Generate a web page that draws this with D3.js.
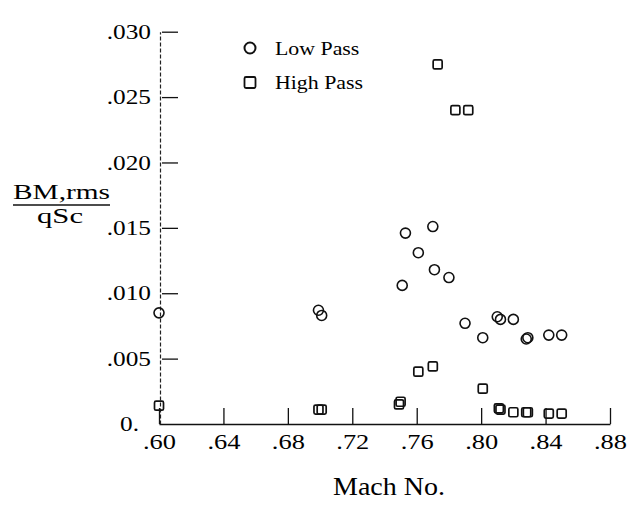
<!DOCTYPE html>
<html><head><meta charset="utf-8">
<script src="https://cdn.jsdelivr.net/npm/d3@7"></script>
<style>
body{margin:0;background:#fff;}
svg text{font-family:"Liberation Serif","Times New Roman",serif;fill:#000;}
</style></head>
<body>
<svg id="c" width="635" height="508"></svg>
<script>
// ---- data ----
const lowPassMach  = [0.600,0.699,0.701,0.751,0.753,0.761,0.770,0.771,0.780,0.790,0.801,0.810,0.812,0.820,0.828,0.829,0.842,0.850];
const lowPassValue = [0.0085,0.0087,0.0083,0.0106,0.0146,0.0131,0.0151,0.0118,0.0112,0.0077,0.0066,0.0082,0.0080,0.0080,0.0065,0.0066,0.0068,0.0068];
const highPassMach  = [0.600,0.699,0.701,0.749,0.750,0.761,0.770,0.773,0.784,0.792,0.801,0.811,0.812,0.820,0.828,0.829,0.842,0.850];
const highPassValue = [0.0014,0.0011,0.0011,0.0015,0.0017,0.0040,0.0044,0.0275,0.0240,0.0240,0.0027,0.0012,0.0011,0.0009,0.0009,0.0009,0.0008,0.0008];
const xTicks = [0.60,0.64,0.68,0.72,0.76,0.80,0.84,0.88];
const xTickLabels = [".60",".64",".68",".72",".76",".80",".84",".88"];
const yTicks = [0,0.005,0.010,0.015,0.020,0.025,0.030];
const yTickLabels = ["0.",".005",".010",".015",".020",".025",".030"];
const legendLabels = ["Low Pass","High Pass"];

const svg = d3.select("#c");
const x = d3.scaleLinear().domain([0.60,0.88]).range([159,610]);
const y = d3.scaleLinear().domain([0,0.030]).range([424,31.7]);

function stretch(sel, f){
  sel.each(function(){ const L=this.getComputedTextLength(); d3.select(this).attr("textLength",L*f).attr("lengthAdjust","spacingAndGlyphs"); });
}

// x axis
const gx = svg.append("g").attr("transform",`translate(0,${y(0)})`)
  .call(d3.axisBottom(x).tickValues(xTicks).tickSizeInner(-16).tickSizeOuter(0)
        .tickFormat((d,i)=>xTickLabels[i]));
gx.select(".domain").attr("stroke","#111").attr("stroke-width",1.6);
gx.selectAll(".tick line").attr("stroke","#111").attr("stroke-width",1.3);
gx.selectAll(".tick text").attr("y",25).attr("dy",0).attr("font-size",22).attr("fill","#000");
stretch(gx.selectAll(".tick text"),1.2);

// y axis
const gy = svg.append("g").attr("transform",`translate(160,0)`)
  .call(d3.axisLeft(y).tickValues(yTicks).tickSizeInner(-18).tickSizeOuter(0)
        .tickFormat((d,i)=>yTickLabels[i]));
gy.select(".domain").attr("stroke","#222").attr("stroke-width",1.2).attr("stroke-dasharray","4,2");
gy.selectAll(".tick line").attr("stroke","#111").attr("stroke-width",1.3).attr("x1",2);
gy.selectAll(".tick").filter(d=>d===0).select("line").remove();
gy.selectAll(".tick text").attr("x",-9).attr("dy","0.3em").attr("font-size",22).attr("fill","#000");
gy.selectAll(".tick").filter(d=>d===0).select("text").attr("x",-21);
stretch(gy.selectAll(".tick text"),1.15);

// y title (fraction)
svg.append("text").attr("x",13).attr("y",199).attr("font-size",21).text("BM,rms")
  .call(s=>s.attr("textLength",97).attr("lengthAdjust","spacingAndGlyphs"));
svg.append("line").attr("x1",13).attr("x2",110).attr("y1",205).attr("y2",205).attr("stroke","#111").attr("stroke-width",1.5);
svg.append("text").attr("x",37).attr("y",223).attr("font-size",21).text("qSc")
  .call(s=>s.attr("textLength",46).attr("lengthAdjust","spacingAndGlyphs"));

// x title
svg.append("text").attr("x",389).attr("y",495).attr("text-anchor","middle").attr("font-size",25).text("Mach No.")
  .call(s=>stretch(s,1.12));

// data
const low = lowPassMach.map((m,i)=>({m,v:lowPassValue[i]}));
const high = highPassMach.map((m,i)=>({m,v:highPassValue[i]}));
svg.append("g").selectAll("circle").data(low).join("circle")
  .attr("cx",d=>x(d.m)).attr("cy",d=>y(d.v)).attr("r",5)
  .attr("fill","none").attr("stroke","#111").attr("stroke-width",1.6);
svg.append("g").selectAll("rect").data(high).join("rect")
  .attr("x",d=>x(d.m)-4.5).attr("y",d=>y(d.v)-4.5).attr("width",9).attr("height",9).attr("rx",1.5)
  .attr("fill","none").attr("stroke","#111").attr("stroke-width",1.7);

// legend
const lg = svg.append("g");
lg.append("circle").attr("cx",250).attr("cy",48).attr("r",5.5).attr("fill","none").attr("stroke","#111").attr("stroke-width",2);
lg.append("rect").attr("x",244.5).attr("y",77).attr("width",11).attr("height",11).attr("rx",1.5).attr("fill","none").attr("stroke","#111").attr("stroke-width",1.8);
lg.append("text").attr("x",275).attr("y",55).attr("font-size",19).text(legendLabels[0]).call(s=>stretch(s,1.15));
lg.append("text").attr("x",275).attr("y",89).attr("font-size",19).text(legendLabels[1]).call(s=>stretch(s,1.15));
</script>
</body></html>
